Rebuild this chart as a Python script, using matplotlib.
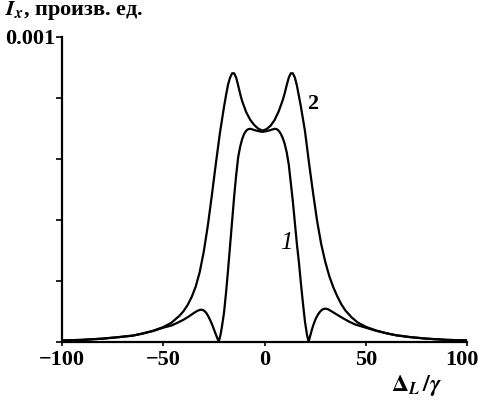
import numpy as np
import matplotlib
matplotlib.use('Agg')
import matplotlib.pyplot as plt

# curve values, intensity in units of 1e-3
x2 = [-100, -90, -80, -72, -65, -60, -55, -50, -46, -42,
      -40, -38, -36, -34, -32, -30, -28, -26, -24, -22,
      -20, -19, -18, -17, -16, -15, -14, -13, -12, -11,
      -9, -7, -5, -3, -1, 1, 3, 5, 7, 9,
      10, 11, 12, 13, 14, 15, 16, 17, 18, 20,
      22, 24, 26, 28, 30, 32, 34, 36, 38, 40,
      43, 46, 50, 55, 60, 65, 72, 80, 90, 100]
y2 = [0.004, 0.006, 0.010, 0.015, 0.020, 0.027, 0.036, 0.048, 0.062, 0.085,
      0.100, 0.120, 0.146, 0.180, 0.228, 0.295, 0.380, 0.480, 0.585, 0.685,
      0.770, 0.808, 0.843, 0.866, 0.880, 0.880, 0.866, 0.840, 0.812, 0.788,
      0.752, 0.727, 0.710, 0.698, 0.692, 0.697, 0.708, 0.727, 0.755, 0.792,
      0.815, 0.842, 0.866, 0.880, 0.880, 0.866, 0.840, 0.805, 0.770, 0.690,
      0.585, 0.487, 0.395, 0.320, 0.262, 0.215, 0.178, 0.148, 0.122, 0.102,
      0.080, 0.063, 0.049, 0.037, 0.028, 0.021, 0.015, 0.010, 0.006, 0.004]

x1 = [-100, -90, -80, -72, -65, -60, -55, -50, -46, -43,
      -40, -38, -36, -34, -32.5, -31.5, -30.5, -29.5, -28.5, -27.5,
      -26.5, -25.5, -24.5, -23.5, -22.6, -21.8, -21, -20, -19, -18,
      -17, -16, -15, -14, -13, -12, -11, -10, -9, -8,
      -7, -6, -4, -2, -1, 0, 2, 4, 5, 6,
      7, 8, 9, 10, 11, 12, 13, 14, 15, 16,
      17, 18, 19, 20, 21, 21.8, 22.6, 23.5, 24.5, 25.5,
      26.5, 27.5, 28.5, 29.5, 30.5, 31.5, 33, 35, 37, 39,
      42, 45, 50, 55, 60, 65, 72, 80, 90, 100]
y1 = [0.004, 0.006, 0.010, 0.015, 0.020, 0.027, 0.035, 0.046, 0.053, 0.062,
      0.072, 0.080, 0.089, 0.098, 0.103, 0.105, 0.104, 0.100, 0.092, 0.080,
      0.066, 0.050, 0.032, 0.015, 0.000, 0.020, 0.050, 0.095, 0.160, 0.235,
      0.315, 0.395, 0.475, 0.545, 0.605, 0.640, 0.665, 0.682, 0.692, 0.697,
      0.698, 0.696, 0.692, 0.689, 0.688, 0.689, 0.692, 0.696, 0.698, 0.697,
      0.692, 0.682, 0.668, 0.648, 0.620, 0.580, 0.520, 0.460, 0.390, 0.320,
      0.260, 0.190, 0.125, 0.065, 0.022, 0.000, 0.020, 0.042, 0.062, 0.078,
      0.090, 0.099, 0.105, 0.108, 0.108, 0.106, 0.100, 0.092, 0.084, 0.076,
      0.065, 0.056, 0.046, 0.036, 0.028, 0.021, 0.015, 0.010, 0.006, 0.004]

yticks = [0, 0.0002, 0.0004, 0.0006, 0.0008, 0.001]
ytick_labels = ['', '', '', '', '', '0.001']
xticks = [-100, -50, 0, 50, 100]
xtick_labels = ['\u2212100', '\u221250', '0', '50', '100']

plt.rcParams['font.family'] = ['Liberation Serif', 'DejaVu Serif']
plt.rcParams['font.weight'] = 'bold'
plt.rcParams['mathtext.fontset'] = 'stix'

fig = plt.figure(figsize=(4.79, 4.01), dpi=100)
ax = fig.add_axes([62/479., 59.3/401., 405/479., 305/401.])

ax.plot(x1, np.array(y1)*1e-3, color='black', lw=1.6, solid_joinstyle='round')
ax.plot(x2, np.array(y2)*1e-3, color='black', lw=1.6, solid_joinstyle='round')

ax.set_xlim(-100, 100)
ax.set_ylim(0, 0.001)
for s in ['top', 'right']:
    ax.spines[s].set_visible(False)
for s in ['left', 'bottom']:
    ax.spines[s].set_linewidth(1.6)

ax.set_yticks(yticks)
ax.set_yticklabels(ytick_labels, fontsize=16)
ax.set_xticks(xticks)
# last label is drawn by hand, nudged left so it stays inside the figure
ax.set_xticklabels(xtick_labels[:-1] + [''], fontsize=16)
ax.annotate(xtick_labels[-1], xy=(xticks[-1], 0), xycoords='data',
            xytext=(-3.5, -6), textcoords='offset points',
            ha='center', va='top', fontsize=16, annotation_clip=False)
ax.tick_params(axis='y', direction='out', length=4, width=1.2, pad=1)
ax.tick_params(axis='x', direction='out', length=3, width=1.2, pad=3)

ax.text(-0.141, 1.085, r'$\boldsymbol{I_x}$, произв. ед.', transform=ax.transAxes,
        ha='left', va='center', fontsize=16, clip_on=False)
ax.text(0.875, -0.145, r'$\boldsymbol{\Delta_L\,/\gamma}$', transform=ax.transAxes,
        ha='center', va='center', fontsize=17, clip_on=False)

ax.text(23.8, 0.00078, '2', ha='center', va='center', fontsize=16)
ax.text(10.7, 0.000322, '1', ha='center', va='center', fontsize=18,
        style='italic', fontweight='normal')

fig.savefig('out.png', dpi=100)
